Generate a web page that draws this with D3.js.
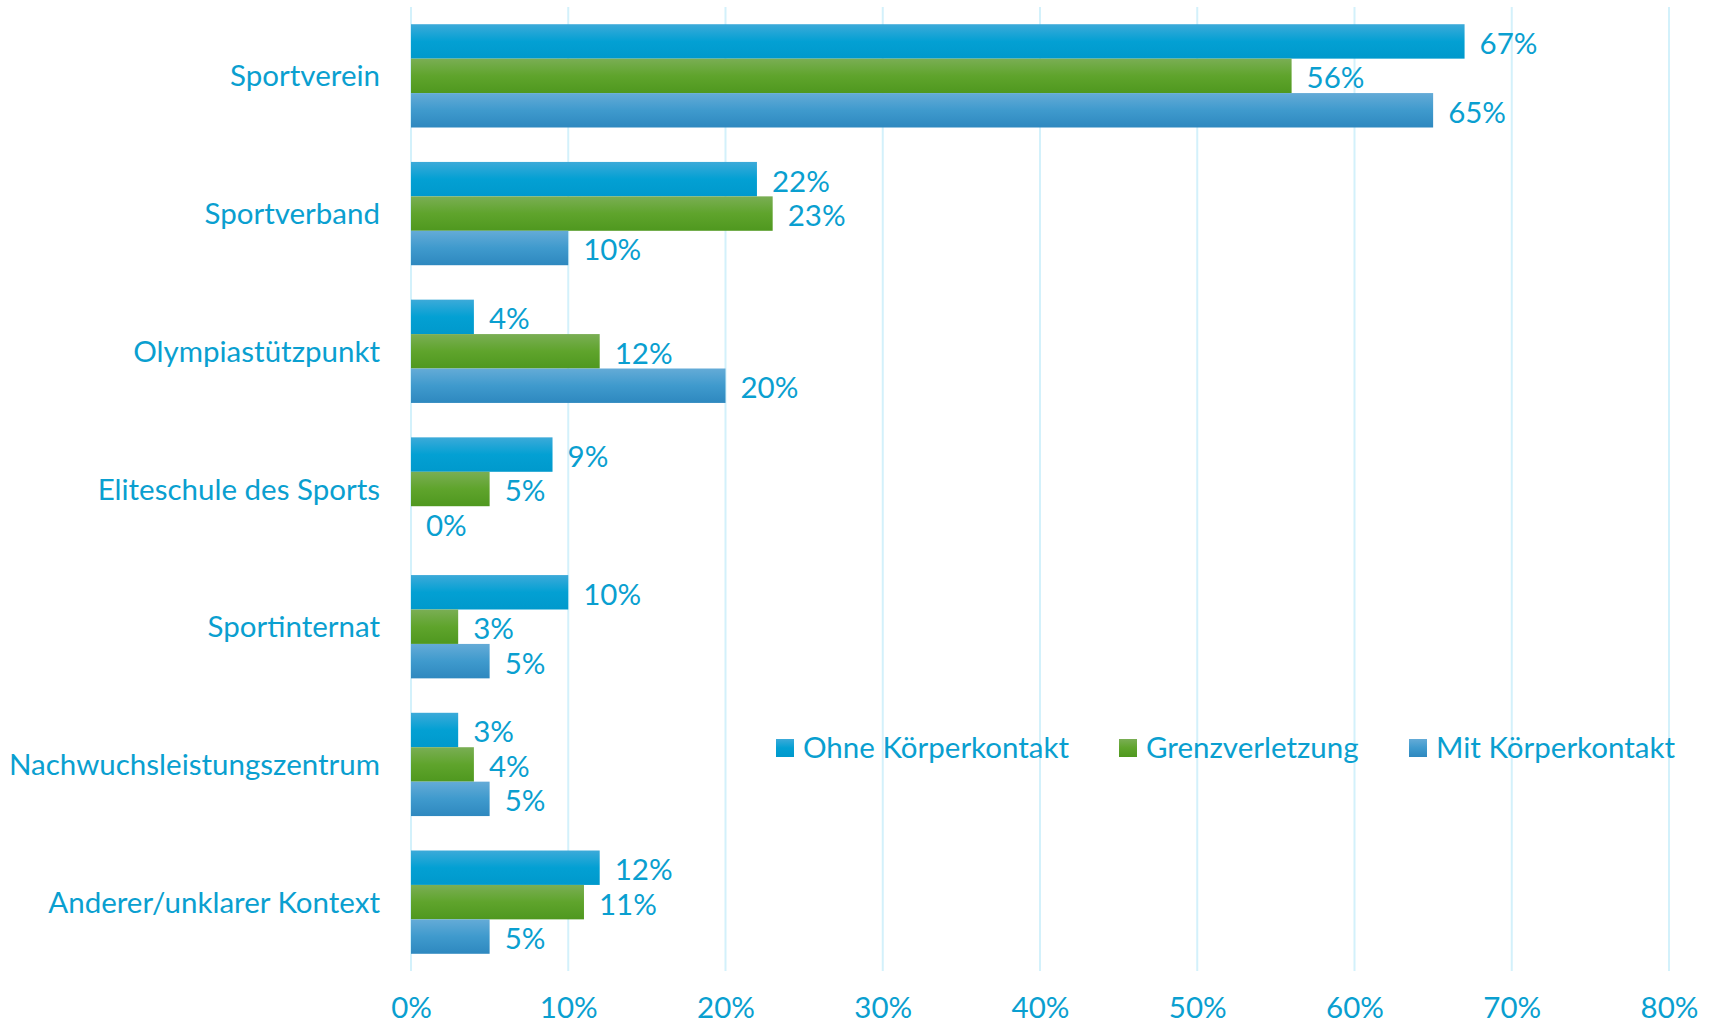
<!DOCTYPE html>
<html>
<head>
<meta charset="utf-8">
<script src="https://cdn.jsdelivr.net/npm/d3@7"></script>
<style>
  body { margin: 0; background: #fff; }
  text { font-family: Lato, "Open Sans", sans-serif; }
</style>
</head>
<body>
<div id="chart"></div>
<script>
// data
const categories = ["Sportverein", "Sportverband", "Olympiastützpunkt", "Eliteschule des Sports",
                    "Sportinternat", "Nachwuchsleistungszentrum", "Anderer/unklarer Kontext"];
const seriesNames = ["Ohne Körperkontakt", "Grenzverletzung", "Mit Körperkontakt"];
const ohne = [67, 22, 4, 9, 10, 3, 12];
const grenz = [56, 23, 12, 5, 3, 4, 11];
const mit = [65, 10, 20, 0, 5, 5, 5];
const xTicks = [0, 10, 20, 30, 40, 50, 60, 70, 80];

const seriesValues = [ohne, grenz, mit];
const gradients = [
    ["#3caad9", "#03a0d3", "#0099cc"],
    ["#7aae54", "#5fa42c", "#4f981f"],
    ["#64abd7", "#3f9acd", "#2e88bf"]
];
const textColor = "#0a9fd0";

function drawChart() {
    var w = 1713;
    var h = 1027;
    var left = 411, right = 1669, top = 7, bottom = 971;
    var fontSize = 29.5;

    var svg = d3.select("#chart")
                .append("svg")
                .attr("width", w)
                .attr("height", h);

    var defs = svg.append("defs");
    gradients.forEach((g, i) => {
        var grad = defs.append("linearGradient")
            .attr("id", "grad" + i)
            .attr("x1", 0).attr("y1", 0).attr("x2", 0).attr("y2", 1);
        grad.append("stop").attr("offset", "0%").attr("stop-color", g[0]);
        grad.append("stop").attr("offset", "50%").attr("stop-color", g[1]);
        grad.append("stop").attr("offset", "100%").attr("stop-color", g[2]);
    });

    var xScale = d3.scaleLinear()
                .domain([0, 80])
                .range([left, right]);

    var yScale = d3.scaleBand()
                .domain(categories)
                .range([top, bottom])
                .paddingInner(0.25)
                .paddingOuter(0.125);

    var ySub = d3.scaleBand()
                .domain(d3.range(seriesNames.length))
                .range([0, yScale.bandwidth()]);

    // gridlines
    svg.append("g")
        .selectAll("line")
        .data(xTicks)
        .enter()
        .append("line")
        .attr("x1", d => xScale(d))
        .attr("x2", d => xScale(d))
        .attr("y1", top)
        .attr("y2", bottom)
        .attr("stroke", "#d3f1fb")
        .attr("stroke-width", 2);

    // x axis labels
    var xAxis = d3.axisBottom(xScale)
                .tickValues(xTicks)
                .tickSize(0)
                .tickPadding(0)
                .tickFormat(d => d + "%");

    var gx = svg.append("g")
        .attr("transform", "translate(0," + (bottom + 26) + ")")
        .call(xAxis);
    gx.select(".domain").remove();
    gx.selectAll("text")
        .attr("fill", textColor)
        .style("font-size", fontSize + "px")
        .attr("dy", "0.71em");

    // category labels
    var yAxis = d3.axisLeft(yScale)
                .tickSize(0)
                .tickPadding(31);
    var gy = svg.append("g")
        .attr("transform", "translate(" + left + ",0)")
        .call(yAxis);
    gy.select(".domain").remove();
    gy.selectAll("text")
        .attr("fill", textColor)
        .style("font-size", fontSize + "px")
        .attr("dy", "0.36em");

    // bars
    categories.forEach((cat, ci) => {
        seriesValues.forEach((vals, si) => {
            var v = vals[ci];
            var y = yScale(cat) + ySub(si);
            if (v > 0) {
                svg.append("rect")
                    .attr("x", xScale(0))
                    .attr("y", y)
                    .attr("width", xScale(v) - xScale(0))
                    .attr("height", ySub.bandwidth())
                    .attr("fill", "url(#grad" + si + ")");
            }
            svg.append("text")
                .attr("x", xScale(v) + 15)
                .attr("y", y + ySub.bandwidth() / 2)
                .attr("dy", "0.42em")
                .attr("fill", textColor)
                .style("font-size", fontSize + "px")
                .text(v + "%");
        });
    });

    // legend
    var legendX = [776, 1119, 1409];
    var legendY = 748;
    seriesNames.forEach((name, i) => {
        svg.append("rect")
            .attr("x", legendX[i])
            .attr("y", legendY - 9)
            .attr("width", 18)
            .attr("height", 18)
            .attr("fill", "url(#grad" + i + ")");
        svg.append("text")
            .attr("x", legendX[i] + 27)
            .attr("y", legendY)
            .attr("dy", "0.35em")
            .attr("fill", textColor)
            .style("font-size", fontSize + "px")
            .text(name);
    });
}

window.onload = drawChart;
</script>
</body>
</html>
